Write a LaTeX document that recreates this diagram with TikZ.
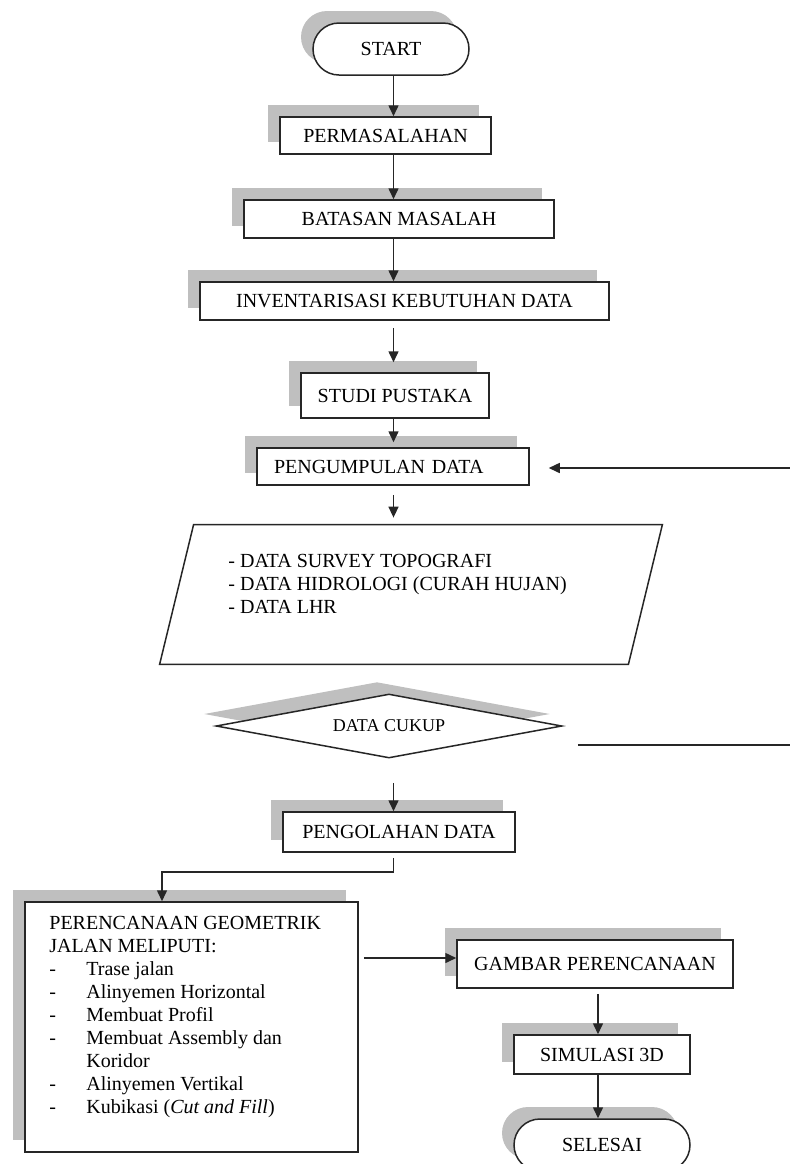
\documentclass[tikz,border=0pt]{standalone}
\usepackage{fontspec}
\setmainfont{Liberation Serif}
\usetikzlibrary{arrows.meta,shapes.geometric,shadows}
\tikzset{
  boxshadow/.style = {drop shadow={shadow xshift=-6pt, shadow yshift=6pt, fill=gray!50, opacity=1}},
  proc/.style      = {rectangle, draw=black!85, line width=0.75pt, fill=white, boxshadow, inner sep=0pt, font=\fontsize{10pt}{11.5pt}\selectfont},
  term/.style      = {proc, rounded corners=13pt, minimum height=26pt},
  iobody/.style    = {rectangle, inner sep=0pt},
  decision/.style  = {diamond, aspect=5.4, draw=black!85, line width=0.75pt, fill=white, boxshadow, inner sep=0pt, font=\small},
  wire/.style      = {-{Triangle[length=5.5pt,width=5pt]}, line width=0.75pt, black!85},
  bare/.style      = {line width=0.75pt, black!85},
  listtext/.style  = {align=left, inner sep=0pt, font=\fontsize{10pt}{11.5pt}\selectfont}
}
\newcommand{\butir}[1]{\makebox[18.5pt][l]{-}#1}

\begin{document}
\begin{tikzpicture}[x=0.5pt, y=0.5pt]
    \useasboundingbox (0,0) rectangle (790,-1164);
    \clip (0,0) rectangle (790,-1164);
    % Guides
    \coordinate (spine) at (393.5,0);
    \coordinate (spine2) at (598,0);
    \coordinate (tepi1) at (790,-468);
    \coordinate (tepi2) at (790,-745);
    % Main column
    \node[term, minimum width=78pt] (start) at (391,-49) {START};
    \node[proc, minimum width=105.5pt, minimum height=18.5pt] (perm) at (385.5,-135.5) {PERMASALAHAN};
    \node[proc, minimum width=155pt, minimum height=19pt] (batas) at (399,-219) {BATASAN MASALAH};
    \node[proc, minimum width=204.5pt, minimum height=19pt] (inven) at (404.5,-301) {INVENTARISASI KEBUTUHAN DATA};
    \node[proc, minimum width=94pt, minimum height=22.5pt] (studi) at (395,-395.5) {STUDI PUSTAKA};
    \node[proc, minimum width=136pt, minimum height=18.5pt, text width=119pt, align=left] (kumpul) at (393,-466.5) {PENGUMPULAN DATA};
    % Input data
    \node[iobody, minimum width=234pt, minimum height=69.5pt] (data) at (411,-594.5) {};
    \draw[bare] ([xshift=8.5pt]data.north west) -- ([xshift=8.5pt]data.north east)
        -- ([xshift=-8.5pt]data.south east) -- ([xshift=-8.5pt]data.south west) -- cycle;
    \node[listtext, anchor=west] (datatext) at (228,-583.5) {- DATA SURVEY TOPOGRAFI\\- DATA HIDROLOGI (CURAH HUJAN)\\- DATA LHR};
    % Check
    \node[decision, minimum width=173pt, minimum height=32pt] (cukup) at (389,-726) {DATA CUKUP};
    \node[proc, minimum width=116pt, minimum height=20pt] (olah) at (399,-832) {PENGOLAHAN DATA};
    % Design
    \node[proc, minimum width=166.5pt, minimum height=125pt] (geo) at (191.5,-1027) {};
    \node[listtext, anchor=north west] (geotext) at (49,-916) {PERENCANAAN GEOMETRIK\\JALAN MELIPUTI:\\\butir{Trase jalan}\\\butir{Alinyemen Horizontal}\\\butir{Membuat Profil}\\\butir{Membuat Assembly dan}\\\hspace*{18.5pt}Koridor\\\butir{Alinyemen Vertikal}\\\butir{Kubikasi (\textit{Cut and Fill})}};
    \node[proc, minimum width=138pt, minimum height=24pt] (gambar) at (595,-964) {GAMBAR PERENCANAAN};
    \node[proc, minimum width=88pt, minimum height=19.5pt] (simul) at (602,-1054.5) {SIMULASI 3D};
    \node[term, minimum width=88pt] (selesai) at (602,-1145) {SELESAI};
    \coordinate (gambarin) at ([yshift=3pt]gambar.west);
    % Wires
    \draw[wire] (start.south -| spine) -- (perm.north -| spine);
    \draw[wire] (perm.south -| spine) -- (batas.north -| spine);
    \draw[wire] (batas.south -| spine) -- (inven.north -| spine);
    \draw[wire, shorten <=3.5pt, shorten >=5pt] (inven.south -| spine) -- (studi.north -| spine);
    \draw[wire, shorten >=2.5pt] (studi.south -| spine) -- (kumpul.north -| spine);
    \draw[wire, shorten <=4.5pt, shorten >=3.5pt] (kumpul.south -| spine) -- (data.north -| spine);
    \draw[wire, shorten >=9.5pt] (tepi1) -- (kumpul.east |- tepi1);
    \draw[bare] ([shift={(7.5pt,-9.5pt)}]cukup.east) -- (tepi2);
    \draw[wire, shorten <=12pt] (cukup.south -| spine) -- (olah.north -| spine);
    \draw[wire, shorten <=2.5pt] (olah.south -| spine) -- ++(0,-19) -| ([xshift=-14.75pt]geo.north);
    \draw[wire, shorten <=2.5pt] (geo.east |- gambarin) -- (gambarin);
    \draw[wire, shorten <=2.5pt] (gambar.south -| spine2) -- (simul.north -| spine2);
    \draw[wire] (simul.south -| spine2) -- (selesai.north -| spine2);
\end{tikzpicture}
\end{document}
